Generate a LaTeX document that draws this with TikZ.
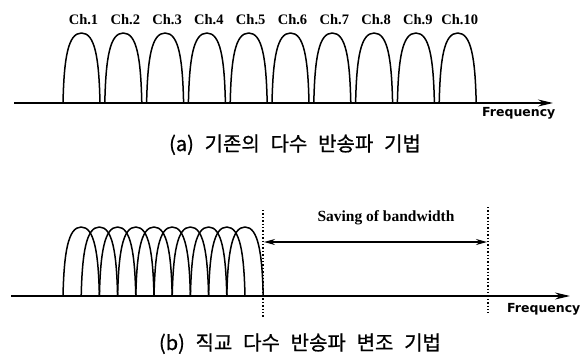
\documentclass[tikz,border=0pt]{standalone}
\usepackage{fontspec}
\setmainfont{Liberation Serif}
\newfontfamily\krfont[WordSpace=2.4, FakeBold=0.8]{Noto Sans CJK KR}
\newfontfamily\freqfont{DejaVu Sans}
\usetikzlibrary{arrows.meta, positioning}

\tikzset{
  lobe/.style={line width=1.5pt, line join=round},
  axis/.style={line width=1.5pt, -{Stealth[length=15pt, width=7pt]}},
  chlabel/.style={font=\fontsize{14.5}{14.5}\selectfont\bfseries, inner sep=0pt, anchor=base},
  freqlabel/.style={font=\freqfont\fontsize{12.5}{12.5}\selectfont\bfseries, inner sep=0pt, anchor=base west},
  savelabel/.style={font=\fontsize{15.5}{15.5}\selectfont\bfseries, inner sep=0pt, anchor=base},
  caption/.style={font=\krfont\fontsize{20}{20}\selectfont, inner sep=0pt, anchor=base},
  bandline/.style={line width=1.4pt, dotted},
  bandarrow/.style={line width=1.3pt, {Stealth[length=11pt, width=6pt]}-{Stealth[length=11pt, width=6pt]}},
}

\begin{document}
\begin{tikzpicture}[x=1pt, y=-1pt]
  \useasboundingbox (0,0) rectangle (584,360);
  \fill[white] (0,0) rectangle (584,360);

  % (a) separated channels
  \coordinate (axA0) at (14,103);
  \coordinate (axA1) at (553,103);
  \draw[axis] (axA0) -- (axA1);
  \foreach \i in {1,...,10} {
    \pgfmathsetmacro{\xl}{63+41.8*(\i-1)}
    \pgfmathsetmacro{\xr}{\xl+37}
    \pgfmathsetmacro{\xm}{\xl+18.5}
    \draw[lobe] (\xl,103) .. controls (\xl+1,58) and (\xl+5,33) .. (\xm,33)
                .. controls (\xr-5,33) and (\xr-1,58) .. (\xr,103);
    \node[chlabel] (ch\i) at (\xm+2,24) {Ch.\i};
  }
  \node[freqlabel] (freqA) at (482,116) {Frequency};
  \node[caption] (capA) at (295,151) {(a) 기존의 다수 반송파 기법};

  % (b) overlapping subcarriers
  \coordinate (axB0) at (11,296);
  \coordinate (axB1) at (570,296);
  \draw[axis] (axB0) -- (axB1);
  \foreach \i in {1,...,10} {
    \pgfmathsetmacro{\xl}{63+18.2*(\i-1)}
    \pgfmathsetmacro{\xr}{\xl+36.4}
    \pgfmathsetmacro{\xm}{\xl+18.2}
    \draw[lobe] (\xl,296) .. controls (\xl+1,253) and (\xl+5,227) .. (\xm,227)
                .. controls (\xr-5,227) and (\xr-1,253) .. (\xr,296);
  }
  \coordinate (bl0) at (263,210);
  \coordinate (bl1) at (263,317);
  \coordinate (br0) at (488,207);
  \coordinate (br1) at (488,313);
  \draw[bandline] (bl0) -- (bl1);
  \draw[bandline] (br0) -- (br1);
  \coordinate (sv0) at (264,242);
  \coordinate (sv1) at (487,242);
  \draw[bandarrow] (sv0) -- (sv1);
  \node[savelabel] (saving) at (386,221) {Saving of bandwidth};
  \node[freqlabel] (freqB) at (507,312) {Frequency};
  \node[caption] (capB) at (300,350) {(b) 직교 다수 반송파 변조 기법};
\end{tikzpicture}
\end{document}
